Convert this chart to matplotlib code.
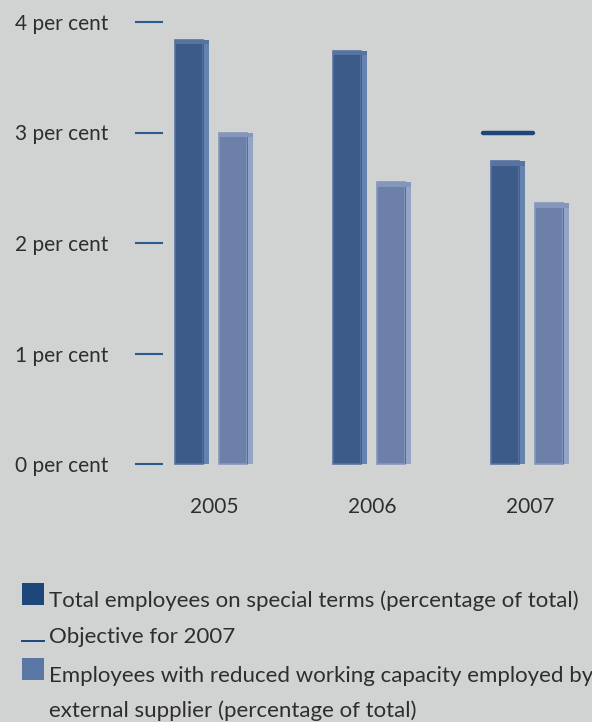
import matplotlib
matplotlib.use("Agg")
import matplotlib.pyplot as plt
from matplotlib.patches import Rectangle
from matplotlib.lines import Line2D
import numpy as np

# --- data -----------------------------------------------------------------
years = ["2005", "2006", "2007"]
special_terms = [3.84, 3.74, 2.74]          # total employees on special terms, %
external_supplier = [3.00, 2.55, 2.36]      # reduced working capacity, external supplier, %
objective_2007 = 3.0
y_ticks = [0, 1, 2, 3, 4]
y_tick_labels = ["0 per cent", "1 per cent", "2 per cent", "3 per cent", "4 per cent"]
legend_labels = [
    "Total employees on special terms (percentage of total)",
    "Objective for 2007",
    "Employees with reduced working capacity employed by\nexternal supplier (percentage of total)",
]

# --- style ----------------------------------------------------------------
BG = "#d1d2d2"
TXT = "#2e2e2e"
DARK_FACE = "#3c5b89"
DARK_SIDE = "#6683b0"
DARK_EDGE = "#5873a0"
DARK_LINE = "#1d477a"
LIGHT_FACE = "#6c80aa"
LIGHT_SIDE = "#93a4c6"
LIGHT_EDGE = "#8496bc"
TICK = "#2b5a8e"

plt.rcParams["font.family"] = ["Lato", "DejaVu Sans"]
plt.rcParams["font.size"] = 15
LEGEND_SIZE = 16

W, H, DPI = 592, 722, 100
fig = plt.figure(figsize=(W / DPI, H / DPI), dpi=DPI, facecolor=BG)

# axes geometry in pixels
ax_left, ax_right = 163, 592
ax_bottom, ax_top = 464, 22
ax = fig.add_axes([ax_left / W, 1 - ax_bottom / H,
                   (ax_right - ax_left) / W, (ax_bottom - ax_top) / H])
ax.set_facecolor(BG)

px_per_unit = 158.0
center0 = 214.0
ax.set_xlim((ax_left - center0) / px_per_unit, (ax_right - center0) / px_per_unit)
ax.set_ylim(0, 4)

x = np.arange(len(years))
face_w = 28 / px_per_unit
side_w = 6 / px_per_unit
dark_off = -39 / px_per_unit
light_off = 5 / px_per_unit
bevel = 0.04


def bar3d(offset, values, face, side, edge):
    xs = x + offset
    ax.bar(xs, values, width=face_w, align="edge", color=face,
           edgecolor=edge, linewidth=1.2, zorder=3, clip_on=False)
    ax.bar(xs + face_w, values, width=side_w, align="edge", color=side,
           edgecolor="none", zorder=3, clip_on=False)
    ax.bar(xs + face_w, values, width=1.2 / px_per_unit, align="edge",
           color=DARK_LINE, alpha=0.55, edgecolor="none", zorder=4, clip_on=False)
    ax.bar(xs, [bevel] * len(values), bottom=np.array(values) - bevel,
           width=face_w + side_w, align="edge", color=edge,
           edgecolor="none", zorder=4, clip_on=False)


bar3d(dark_off, special_terms, DARK_FACE, DARK_SIDE, DARK_EDGE)
bar3d(light_off, external_supplier, LIGHT_FACE, LIGHT_SIDE, LIGHT_EDGE)

# objective marker above the 2007 bar
obj_x = x[2] + dark_off + (face_w + side_w) / 2
half = 25 / px_per_unit
ax.plot([obj_x - half, obj_x + half], [objective_2007, objective_2007],
        color=DARK_LINE, lw=3.2, solid_capstyle="round", zorder=5)

# axes decoration
for s in ax.spines.values():
    s.set_visible(False)
ax.set_yticks(y_ticks)
ax.set_yticklabels(y_tick_labels, color=TXT)
ax.tick_params(axis="y", length=20, width=1.5, color=TICK, pad=19, direction="out")
ax.set_xticks(x)
ax.set_xticklabels(years, color=TXT)
ax.tick_params(axis="x", length=0, pad=24)

# legend drawn in figure pixels
def fy(py):
    return 1 - py / H

def fx(px):
    return px / W

sq = 22
fig.add_artist(Rectangle((fx(22), fy(605)), sq / W, sq / H,
                         transform=fig.transFigure, color=DARK_LINE, lw=0))
fig.text(fx(49), fy(607), legend_labels[0], color=TXT, va="baseline", ha="left",
         fontsize=LEGEND_SIZE)

fig.add_artist(Line2D([fx(22), fx(44)], [fy(641), fy(641)],
                      transform=fig.transFigure, color=DARK_LINE, lw=1.4))
fig.text(fx(49), fy(643), legend_labels[1], color=TXT, va="baseline", ha="left",
         fontsize=LEGEND_SIZE)

fig.add_artist(Rectangle((fx(22), fy(680)), sq / W, sq / H,
                         transform=fig.transFigure, color="#5a76a4", lw=0))
first, second = legend_labels[2].split("\n")
fig.text(fx(49), fy(682), first, color=TXT, va="baseline", ha="left",
         fontsize=LEGEND_SIZE)
fig.text(fx(49), fy(717), second, color=TXT, va="baseline", ha="left",
         fontsize=LEGEND_SIZE)

fig.savefig("out.png", dpi=DPI, facecolor=BG)
